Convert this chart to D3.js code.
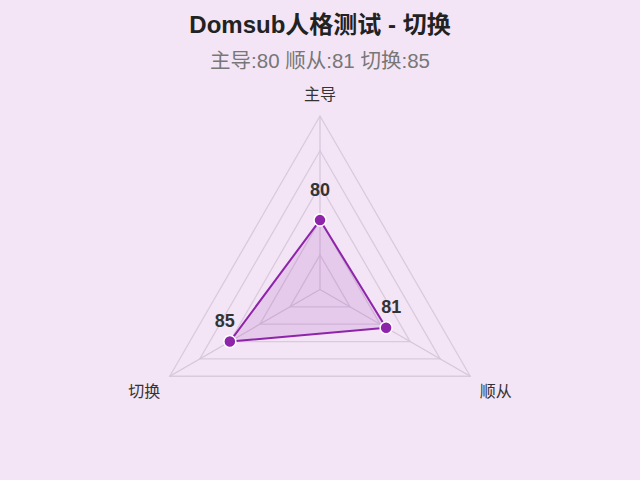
<!DOCTYPE html>
<html>
<head>
<meta charset="utf-8">
<script src="https://cdn.jsdelivr.net/npm/d3@7"></script>
<style>
  html, body { margin: 0; padding: 0; background: #f3e5f5; }
  svg { display: block; font-family: "Liberation Sans", "Noto Sans CJK SC", sans-serif; }
</style>
</head>
<body>
<svg id="chart" width="640" height="480"></svg>
<script>
const indicators = ['主导', '顺从', '切换'];
const values = [80, 81, 85];
const valueMin = 70;
const valueMax = 95;
const levels = 5;

const width = 640, height = 480;
const cx = 320, cy = 289.5, R = 173.5;

const svg = d3.select('#chart');
svg.selectAll('*').remove();

svg.append('rect').attr('width', width).attr('height', height).attr('fill', '#f3e5f5');

svg.append('text')
  .attr('x', cx).attr('y', 33)
  .attr('text-anchor', 'middle')
  .attr('font-size', 24).attr('font-weight', 'bold').attr('fill', '#222')
  .text('Domsub人格测试 - 切换');

svg.append('text')
  .attr('x', cx).attr('y', 68)
  .attr('text-anchor', 'middle')
  .attr('font-size', 20.5).attr('fill', '#777')
  .text(indicators.map((d, i) => d + ':' + values[i]).join(' '));

const r = d3.scaleLinear().domain([valueMin, valueMax]).range([0, R]);
const angle = d3.scaleBand().domain(indicators).range([0, 2 * Math.PI]).align(0).paddingInner(0).paddingOuter(0);
const ang = d => angle(d) - Math.PI / 2;
const pt = (name, rad) => [cx + rad * Math.cos(ang(name)), cy + rad * Math.sin(ang(name))];

const g = svg.append('g');

// grid rings
const ringVals = d3.range(1, levels + 1).map(i => valueMin + (valueMax - valueMin) * i / levels);
g.selectAll('.ring')
  .data(ringVals)
  .enter().append('polygon')
  .attr('class', 'ring')
  .attr('points', v => indicators.map(n => pt(n, r(v)).join(',')).join(' '))
  .attr('fill', 'none')
  .attr('stroke', '#d9cadd')
  .attr('stroke-width', 1.3);

// spokes
g.selectAll('.spoke')
  .data(indicators)
  .enter().append('line')
  .attr('x1', cx).attr('y1', cy)
  .attr('x2', d => pt(d, R)[0])
  .attr('y2', d => pt(d, R)[1])
  .attr('stroke', '#d6c6da')
  .attr('stroke-width', 1.3);

// axis names
g.selectAll('.axis-name')
  .data(indicators)
  .enter().append('text')
  .attr('x', d => pt(d, R + 11)[0])
  .attr('y', d => pt(d, R + 11)[1])
  .attr('text-anchor', d => {
    const c = Math.cos(ang(d));
    return c > 0.1 ? 'start' : c < -0.1 ? 'end' : 'middle';
  })
  .attr('dy', d => Math.sin(ang(d)) < 0 ? '-0.3em' : '0.95em')
  .attr('font-size', 16).attr('fill', '#333')
  .text(d => d);

// data area
const pts = indicators.map((n, i) => pt(n, r(values[i])));
g.append('polygon')
  .attr('points', pts.map(p => p.join(',')).join(' '))
  .attr('fill', 'rgba(156, 39, 176, 0.14)')
  .attr('stroke', '#8e24aa')
  .attr('stroke-width', 2)
  .attr('stroke-linejoin', 'round');

g.selectAll('.dot')
  .data(indicators)
  .enter().append('circle')
  .attr('cx', (d, i) => pts[i][0])
  .attr('cy', (d, i) => pts[i][1])
  .attr('r', 6)
  .attr('fill', '#8e24aa')
  .attr('stroke', '#fff')
  .attr('stroke-width', 1.5);

g.selectAll('.val')
  .data(indicators)
  .enter().append('text')
  .attr('x', (d, i) => pts[i][0] + 6 * Math.cos(ang(d)))
  .attr('y', (d, i) => pts[i][1] + 6 * Math.sin(ang(d)) - 24)
  .attr('dy', '0.35em')
  .attr('text-anchor', 'middle')
  .attr('font-size', 18).attr('font-weight', 'bold').attr('fill', '#333')
  .text((d, i) => values[i]);
</script>
</body>
</html>
